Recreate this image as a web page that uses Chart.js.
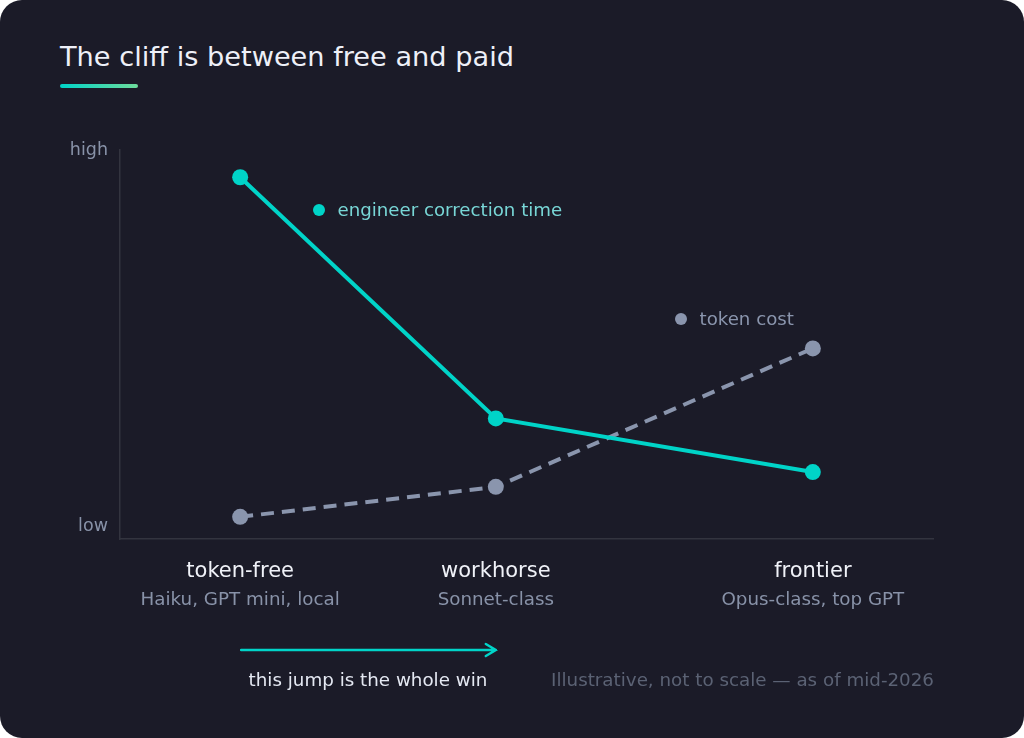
<!DOCTYPE html>
<html>
<head>
<meta charset="utf-8">
<script src="https://cdn.jsdelivr.net/npm/chart.js@4.4.1/dist/chart.umd.min.js"></script>
<style>
  html, body { margin: 0; padding: 0; background: #ffffff; }
  #card {
    position: relative; width: 1024px; height: 738px;
    background: #1b1b28; border-radius: 22px; overflow: hidden;
    font-family: "DejaVu Sans", sans-serif;
  }
  #title {
    position: absolute; left: 60px; top: 39px; margin: 0;
    font-size: 27.2px; font-weight: normal; color: #eef0f8; line-height: 36px;
  }
  #underline {
    position: absolute; left: 60px; top: 84px; width: 78px; height: 4px;
    border-radius: 2px; background: linear-gradient(90deg, #00d4c8, #6edc9c);
  }
  #chart { position: absolute; left: 0; top: 0; }
</style>
</head>
<body>
<div id="card">
  <h1 id="title">The cliff is between free and paid</h1>
  <div id="underline"></div>
  <canvas id="chart" width="1024" height="738"></canvas>
</div>
<script>
const tiers = ['token-free', 'workhorse', 'frontier'];
const tierNotes = ['Haiku, GPT mini, local', 'Sonnet-class', 'Opus-class, top GPT'];
const tierPos = [0, 1, 2.24];
const correctionTime = [93, 31, 17.2];
const tokenCost = [5.7, 13.4, 49];
const yTickValues = [3.3, 100];
const yTickLabels = ['low', 'high'];
const seriesNames = ['engineer correction time', 'token cost'];
const arrowNote = 'this jump is the whole win';
const footNote = 'Illustrative, not to scale \u2014 as of mid-2026';

const TEAL = '#00d4c8';
const GREY = '#8a95ad';
const FONT = '"DejaVu Sans", sans-serif';

// labels under the axis, inline series labels, arrow and footnote
const annotations = {
    id: 'annotations',
    afterDraw(chart) {
        const ctx = chart.ctx;
        const x = chart.scales.x;
        ctx.save();
        ctx.textAlign = 'center';
        ctx.textBaseline = 'middle';
        tiers.forEach((t, i) => {
            const px = x.getPixelForValue(tierPos[i]);
            ctx.font = '21px ' + FONT;
            ctx.fillStyle = '#f0f2f8';
            ctx.fillText(t, px, 572);
            ctx.font = '18.3px ' + FONT;
            ctx.fillStyle = '#8892a8';
            ctx.fillText(tierNotes[i], px, 600);
        });

        // inline series labels
        const labels = [
            { text: seriesNames[0], dot: TEAL, color: '#78d6d6', x: 319, y: 210 },
            { text: seriesNames[1], dot: GREY, color: '#8a95ad', x: 681, y: 319 }
        ];
        labels.forEach(l => {
            ctx.beginPath();
            ctx.arc(l.x, l.y, 6, 0, Math.PI * 2);
            ctx.fillStyle = l.dot;
            ctx.fill();
            ctx.font = '18.2px ' + FONT;
            ctx.fillStyle = l.color;
            ctx.textAlign = 'left';
            ctx.fillText(l.text, l.x + 18.5, l.y + 1);
        });

        // arrow between the first two tiers
        const x0 = x.getPixelForValue(tierPos[0]);
        const x1 = x.getPixelForValue(tierPos[1]);
        ctx.strokeStyle = TEAL;
        ctx.lineWidth = 2.5;
        ctx.lineCap = 'round';
        ctx.beginPath();
        ctx.moveTo(x0 + 1, 650);
        ctx.lineTo(x1, 650);
        ctx.moveTo(x1 - 10, 644);
        ctx.lineTo(x1, 650);
        ctx.lineTo(x1 - 10, 656);
        ctx.stroke();
        ctx.textAlign = 'center';
        ctx.font = '18.3px ' + FONT;
        ctx.fillStyle = '#e4e8f2';
        ctx.fillText(arrowNote, (x0 + x1) / 2, 681);

        ctx.textAlign = 'right';
        ctx.fillStyle = '#5b6274';
        ctx.fillText(footNote, x.right + 1, 681);
        ctx.restore();
    }
};

new Chart(document.getElementById('chart'), {
    type: 'line',
    data: {
        datasets: [
            {
                label: seriesNames[0],
                data: tierPos.map((p, i) => ({ x: p, y: correctionTime[i] })),
                borderColor: TEAL,
                backgroundColor: TEAL,
                borderWidth: 4,
                pointRadius: 8,
                pointHoverRadius: 8,
                pointBorderWidth: 0
            },
            {
                label: seriesNames[1],
                data: tierPos.map((p, i) => ({ x: p, y: tokenCost[i] })),
                borderColor: GREY,
                backgroundColor: GREY,
                borderWidth: 4,
                borderDash: [13, 8],
                pointRadius: 8,
                pointHoverRadius: 8,
                pointBorderWidth: 0
            }
        ]
    },
    options: {
        responsive: false,
        animation: false,
        clip: false,
        layout: { padding: { left: 60, right: 91, top: 150, bottom: 199 } },
        plugins: { legend: { display: false }, tooltip: { enabled: false } },
        scales: {
            x: {
                type: 'linear',
                min: -0.47,
                max: 2.71,
                grid: { display: false },
                border: { display: true, color: '#33343f', width: 1.5 },
                ticks: { display: false },
                afterFit: s => { s.height = 0; }
            },
            y: {
                min: 0,
                max: 100,
                grid: { display: false },
                border: { display: true, color: '#33343f', width: 1.5 },
                afterBuildTicks: s => { s.ticks = yTickValues.map(v => ({ value: v })); },
                afterFit: s => { s.width = 60; },
                ticks: {
                    padding: 4,
                    color: '#8892a8',
                    font: { family: FONT, size: 17.5 },
                    callback: (v, i) => yTickLabels[i]
                }
            }
        }
    },
    plugins: [annotations]
});
</script>
</body>
</html>
